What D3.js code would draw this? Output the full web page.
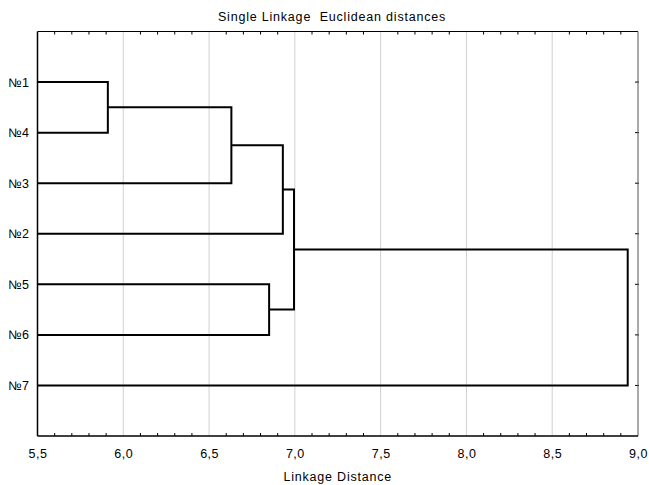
<!DOCTYPE html>
<html>
<head>
<meta charset="utf-8">
<script src="https://cdn.jsdelivr.net/npm/d3@7"></script>
<style>
  body { margin: 0; background: #fff; }
  text { font-family: "Liberation Sans", Arial, sans-serif; fill: #000; }
</style>
</head>
<body>
<div id="chart"></div>
<script>
// 数据
var leaves = ["№1", "№4", "№3", "№2", "№5", "№6", "№7"];
var mergeNames = ["m1", "m2", "m3", "m4", "m5", "m6"];
var mergeLeft = ["№1", "m1", "m2", "№5", "m3", "m5"];
var mergeRight = ["№4", "№3", "№2", "№6", "m4", "№7"];
var mergeDist = [5.91, 6.63, 6.93, 6.85, 6.995, 8.94];
var xTicks = [5.5, 6.0, 6.5, 7.0, 7.5, 8.0, 8.5, 9.0];

var W = 649, H = 485;
var MARGIN = { top: 31.5, right: 11, bottom: 49, left: 37.5 };
var innerW = W - MARGIN.left - MARGIN.right;
var innerH = H - MARGIN.top - MARGIN.bottom;

var svg = d3.select("#chart").append("svg")
  .attr("width", W).attr("height", H);

var g = svg.append("g")
  .attr("transform", "translate(" + MARGIN.left + "," + MARGIN.top + ")");

var x = d3.scaleLinear().domain([5.5, 9.0]).range([0, innerW]);
var y = d3.scaleLinear().domain([0, leaves.length + 1]).range([0, innerH]);

// 网格线
g.selectAll(".grid").data(xTicks.slice(1, -1)).enter()
  .append("line")
  .attr("x1", function (d) { return x(d); })
  .attr("x2", function (d) { return x(d); })
  .attr("y1", 0).attr("y2", innerH)
  .attr("stroke", "#d0d0d0").attr("stroke-width", 1);

// 节点位置
var pos = {};
leaves.forEach(function (l, i) { pos[l] = { y: y(i + 1), h: 5.5 }; });
mergeNames.forEach(function (m, i) {
  var a = pos[mergeLeft[i]], b = pos[mergeRight[i]];
  pos[m] = { y: (a.y + b.y) / 2, h: mergeDist[i] };
});

// 树状图
g.selectAll(".link").data(mergeNames).enter()
  .append("path")
  .attr("d", function (m, i) {
    var a = pos[mergeLeft[i]], b = pos[mergeRight[i]];
    return "M" + x(a.h) + "," + a.y + "H" + x(mergeDist[i]) + "V" + b.y + "H" + x(b.h);
  })
  .attr("fill", "none").attr("stroke", "#000").attr("stroke-width", 2);

// 坐标轴
var xAxis = d3.axisBottom(x).tickValues(xTicks)
  .tickFormat(function (d) { return d3.format(".1f")(d).replace(".", ","); })
  .tickSize(0).tickPadding(13.5);
var ax = g.append("g").attr("transform", "translate(0," + innerH + ")").call(xAxis);
ax.select(".domain").remove();
ax.selectAll("text").style("font-size", "12.5px").style("letter-spacing", "0.5px")
  .style("font-family", "Liberation Sans, Arial, sans-serif").attr("fill", "#000");

// 小刻度
var minor = d3.range(5.6, 9.0, 0.1).filter(function (v) { return Math.abs(v * 2 - Math.round(v * 2)) > 0.01; });
g.selectAll(".mb").data(minor).enter().append("line")
  .attr("x1", function (d) { return x(d); }).attr("x2", function (d) { return x(d); })
  .attr("y1", innerH).attr("y2", innerH - 3).attr("stroke", "#000");
g.selectAll(".mt").data(minor).enter().append("line")
  .attr("x1", function (d) { return x(d); }).attr("x2", function (d) { return x(d); })
  .attr("y1", 0).attr("y2", 3).attr("stroke", "#000");
g.selectAll(".rt").data(leaves).enter().append("line")
  .attr("x1", innerW - 3).attr("x2", innerW + 1)
  .attr("y1", function (d, i) { return y(i + 1); }).attr("y2", function (d, i) { return y(i + 1); })
  .attr("stroke", "#000");

// 边框
g.append("line").attr("x1", 0).attr("x2", innerW).attr("y1", 0).attr("y2", 0).attr("stroke", "#000");
g.append("line").attr("x1", innerW).attr("x2", innerW).attr("y1", 0).attr("y2", innerH).attr("stroke", "#555");
g.append("line").attr("x1", 0).attr("x2", 0).attr("y1", 0).attr("y2", innerH).attr("stroke", "#000").attr("stroke-width", 1.5);
g.append("line").attr("x1", 0).attr("x2", innerW).attr("y1", innerH).attr("y2", innerH).attr("stroke", "#000").attr("stroke-width", 1.5);

// 叶子标签
g.selectAll(".leaf").data(leaves).enter().append("text")
  .attr("x", -8).attr("y", function (d, i) { return y(i + 1); })
  .attr("dy", "0.36em").attr("text-anchor", "end")
  .style("font-size", "12.5px").style("letter-spacing", "0.5px")
  .text(function (d) { return d; });

// 标题
svg.append("text").attr("x", 332).attr("y", 20.5).attr("text-anchor", "middle")
  .style("font-size", "12.5px").style("letter-spacing", "0.8px")
  .attr("xml:space", "preserve")
  .text("Single Linkage  Euclidean distances");
svg.append("text").attr("x", MARGIN.left + innerW / 2).attr("y", 481).attr("text-anchor", "middle")
  .style("font-size", "12.5px").style("letter-spacing", "0.8px")
  .text("Linkage Distance");
</script>
</body>
</html>
